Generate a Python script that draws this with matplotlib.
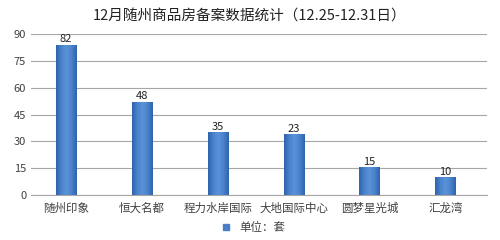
import matplotlib
matplotlib.use("Agg")
import matplotlib.pyplot as plt
import numpy as np
from matplotlib.lines import Line2D
from matplotlib.colors import LinearSegmentedColormap

plt.rcParams['font.family'] = ['Noto Sans CJK SC', 'DejaVu Sans']

categories = ["随州印象", "恒大名都", "程力水岸国际", "大地国际中心", "圆梦星光城", "汇龙湾"]
bar_heights = [84, 52, 35, 34, 15.5, 10]
labels = [82, 48, 35, 23, 15, 10]
yticks = [0, 15, 30, 45, 60, 75, 90]

fig = plt.figure(figsize=(5, 2.4), dpi=100)
ax = fig.add_axes([0.062, 0.1875, 0.912, 0.6705])

width = 0.264
x = list(range(len(categories)))
cmap = LinearSegmentedColormap.from_list('bar', ['#2f62ad', '#4a82cc', '#5b93da', '#4a82cc', '#2f62ad'])
grad = np.linspace(0, 1, 64).reshape(1, -1)
bars = ax.bar(x, bar_heights, width=width, color='#4a7ec6', edgecolor='#2d5a9c', linewidth=0.6, zorder=3)
for b in bars:
    bx, by = b.get_x(), b.get_y()
    bw, bh = b.get_width(), b.get_height()
    im = ax.imshow(grad, cmap=cmap, aspect='auto', extent=(bx, bx + bw, by, by + bh), zorder=3.5,
                   interpolation='bilinear')
    im.set_clip_path(b)
for xi, h, lab in zip(x, bar_heights, labels):
    ax.text(xi, h + 0.3, str(lab), ha='center', va='bottom', fontsize=8, color='#222222', zorder=4)

ax.set_xlim(-0.46, 5.55)
ax.set_ylim(0, 90)
ax.set_yticks(yticks)
ax.yaxis.grid(True, color='#a6a6a6', linewidth=0.8, zorder=0)
ax.tick_params(axis='both', length=0, labelsize=8, colors='#404040')
ax.tick_params(axis='x', pad=5)
ax.set_xticks(x)
ax.set_xticklabels(categories, fontsize=8.25, color='#404040')
for s in ['left', 'right', 'top']:
    ax.spines[s].set_visible(False)
ax.spines['bottom'].set_color('#a6a6a6')
ax.spines['bottom'].set_linewidth(0.8)
ax.spines['bottom'].set_zorder(5)

fig.text(0.5, 0.93, "12月随州商品房备案数据统计（12.25-12.31日）", ha='center', va='center', fontsize=10.5, color='#222222')

handle = Line2D([], [], marker='s', linestyle='none', markersize=4, markerfacecolor='#4a7ec6', markeredgecolor='#4a7ec6')
fig.legend([handle], ["单位：套"], loc='center', bbox_to_anchor=(0.5, 0.05), frameon=False, fontsize=8.25,
           handletextpad=0.1, labelcolor='#404040')

fig.savefig("out.png", dpi=100)
